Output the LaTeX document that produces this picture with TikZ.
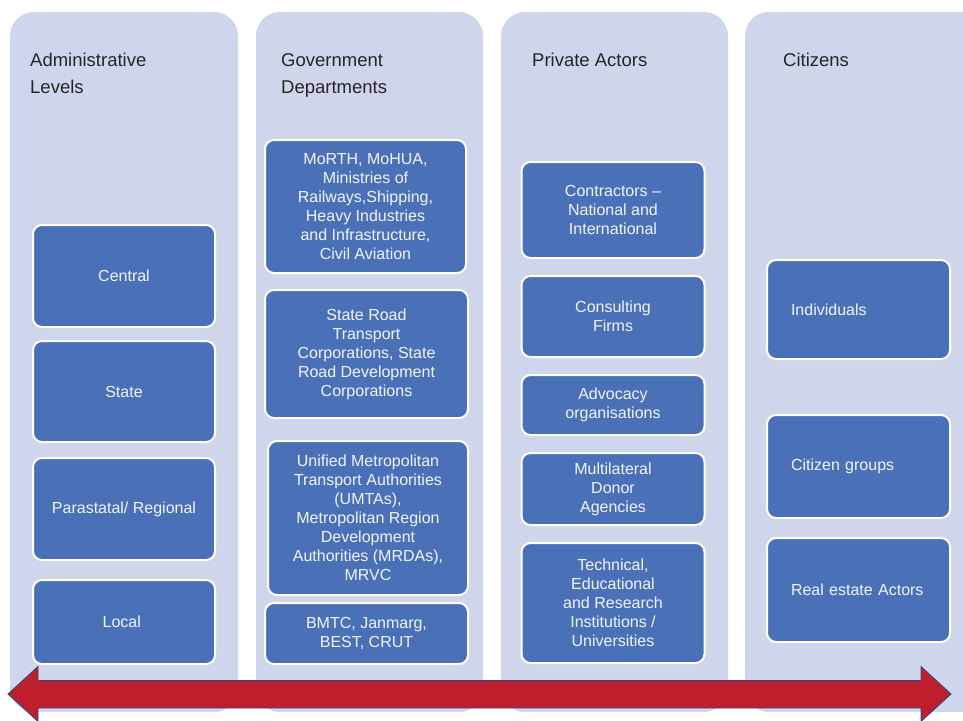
\documentclass[tikz,border=0pt]{standalone}
\usepackage{fontspec}
\setmainfont{Liberation Sans}
\definecolor{laneback}{HTML}{CFD5EA}
\definecolor{boxblue}{HTML}{4A70B7}
\definecolor{boxtext}{HTML}{F2F4F8}
\definecolor{headtext}{HTML}{262626}
\definecolor{arrowred}{HTML}{BE1E2D}
\definecolor{arrowedge}{HTML}{2B4A86}
\tikzset{
    lane/.style={fill=laneback, rounded corners=24pt}, % 每一列的浅色背景
    lane head/.style={anchor=north west, inner sep=0pt, align=left, text=headtext,
        font=\fontsize{18.5}{27}\selectfont}, % 列标题
    actor/.style={draw=white, line width=2pt, fill=boxblue, rounded corners=9pt,
        text=boxtext, align=center, inner sep=4pt,
        font=\fontsize{16}{19}\selectfont}, % 蓝色方框
    citizen/.style={actor, align=left, text width=135pt, inner xsep=24pt,
        minimum width=183pt} % 右列左对齐的方框
}

\begin{document}
\begin{tikzpicture}[x=1pt, y=-1pt]
    \useasboundingbox (0,0) rectangle (963,720);

    % --- 1. 四列背景和标题 ---
    \foreach \xa/\xb in {10/238, 256/483, 501/728, 745/985} {
        \fill[lane] (\xa,12) rectangle (\xb,712);
    }
    \node[lane head] (adminHead) at (30,53) {Administrative\\Levels};
    \node[lane head] (deptHead) at (281,53) {Government\\Departments};
    \node[lane head] (privateHead) at (532,53) {Private Actors};
    \node[lane head] (citizenHead) at (783,53) {Citizens};

    % --- 2. 第一列: 行政层级 ---
    \foreach \name/\y/\h/\txt in {
        central/276/102/Central,
        state/391.5/101/State,
        parastatal/509/102/{Parastatal/ Regional},
        local/622/84/Local
    } {
        \node[actor, minimum width=182, minimum height=\h] (\name) at (124,\y) {\txt};
    }

    % --- 3. 第二列: 政府部门 ---
    \node[actor, minimum width=201, minimum height=133] (morth) at (365.5,206.5)
        {MoRTH, MoHUA,\\Ministries of\\Railways,Shipping,\\Heavy Industries\\and Infrastructure,\\Civil Aviation};
    \node[actor, minimum width=203, minimum height=128] (srtc) at (366.5,354)
        {State Road\\Transport\\Corporations, State\\Road Development\\Corporations};
    \node[actor, minimum width=200, minimum height=154] (umta) at (368,518)
        {Unified Metropolitan\\Transport Authorities\\(UMTAs),\\Metropolitan Region\\Development\\Authorities (MRDAs),\\MRVC};
    \node[actor, minimum width=203, minimum height=61] (bmtc) at (366.5,633.5)
        {BMTC, Janmarg,\\BEST, CRUT};

    % --- 4. 第三列: 私营部门 ---
    \node[actor, minimum width=183, minimum height=96] (contractors) at (613,210)
        {Contractors --\\National and\\International};
    \node[actor, minimum width=183, minimum height=81] (consulting) at (613,316.5)
        {Consulting\\Firms};
    \node[actor, minimum width=183, minimum height=60] (advocacy) at (613,405)
        {Advocacy\\organisations};
    \node[actor, minimum width=183, minimum height=72] (donors) at (613,489)
        {Multilateral\\Donor\\Agencies};
    \node[actor, minimum width=183, minimum height=120] (institutions) at (613,603)
        {Technical,\\Educational\\and Research\\Institutions /\\Universities};

    % --- 5. 第四列: 公民 ---
    \foreach \name/\y/\h/\txt in {
        individuals/309.5/99/Individuals,
        groups/466.5/103/{Citizen groups},
        realestate/590/104/{Real estate Actors}
    } {
        \node[citizen, minimum height=\h] (\name) at (858.5,\y) {\txt};
    }

    % --- 6. 底部的双向箭头 ---
    \draw[fill=arrowred, draw=arrowedge, line width=0.8pt]
        (8,694) -- (38,666.5) -- (38,680.5) -- (921,680.5) -- (921,666.5)
        -- (951,694) -- (921,721.5) -- (921,708) -- (38,708) -- (38,721.5) -- cycle;
\end{tikzpicture}
\end{document}
